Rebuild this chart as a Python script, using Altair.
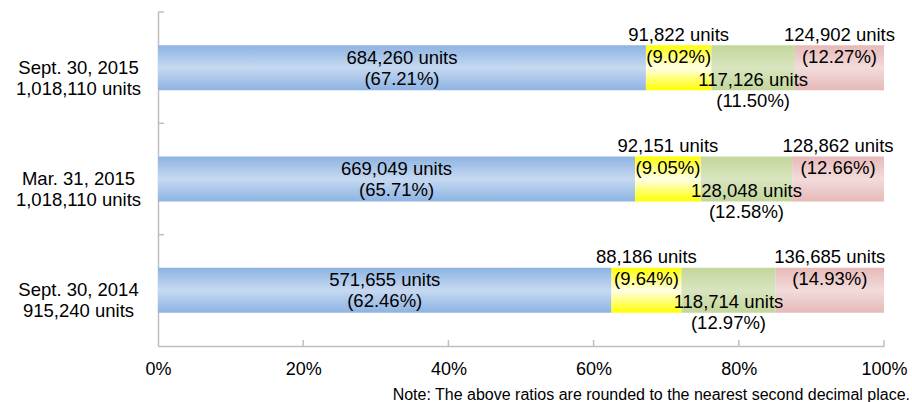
import altair as alt
import pandas as pd

# ---- data ----
dates = ["Sept. 30, 2015", "Mar. 31, 2015", "Sept. 30, 2014"]
totals = [1018110, 1018110, 915240]
series = ["blue", "yellow", "green", "pink"]
blue = [684260, 669049, 571655]
yellow = [91822, 92151, 88186]
green = [117126, 128048, 118714]
pink = [124902, 128862, 136685]
x_ticks = [0.2, 0.4, 0.6, 0.8, 1.0]
note = "Note: The above ratios are rounded to the nearest second decimal place."

values = {"blue": blue, "yellow": yellow, "green": green, "pink": pink}
rows = []
for i, d in enumerate(dates):
    cat = f"{d}\n{totals[i]:,} units"
    for k, s in enumerate(series):
        v = values[s][i]
        rows.append({
            "cat": cat, "series": s, "order": k, "value": v,
            "line1": f"{v:,} units",
            "line2": f"({v / totals[i] * 100:.2f}%)",
        })
df = pd.DataFrame(rows)
cat_order = [f"{d}\n{totals[i]:,} units" for i, d in enumerate(dates)]

FONT = "Liberation Sans"
FS = 18.5
GRAY = "#BFBFBF"


def grad(edge, mid):
    return alt.LinearGradient(
        gradient="linear", x1=0, x2=0, y1=0, y2=1,
        stops=[alt.GradientStop(color=edge, offset=0),
               alt.GradientStop(color=mid, offset=0.5),
               alt.GradientStop(color=edge, offset=1)])


fills = {
    "blue": grad("#8DB3E2", "#C6D9F1"),
    "yellow": grad("#FFFF00", "#FFFFE8"),
    "green": grad("#C3D69B", "#D9E5BF"),
    "pink": grad("#E6B9B8", "#F2DCDB"),
}

xscale = alt.Scale(domain=[0, 1], nice=False, zero=False)
yscale = alt.Scale(paddingInner=0, paddingOuter=0)

base = (
    alt.Chart(df)
    .transform_stack(stack="value", groupby=["cat"], as_=["x0", "x1"],
                     offset="normalize", sort=[alt.SortField("order", "ascending")])
    .transform_calculate(mid="(datum.x0 + datum.x1) / 2")
)

Y = alt.Y("cat:N", sort=cat_order, scale=yscale, title=None,
          axis=alt.Axis(labelExpr="split(datum.label, '\\n')", labelAlign="center",
                        labelBaseline="middle", labelPadding=80, labelLineHeight=21,
                        labelFont=FONT, labelFontSize=FS, labelColor="black",
                        ticks=False, domainColor=GRAY, domainWidth=1.5))
X = alt.X("x0:Q", scale=xscale, title=None,
          axis=alt.Axis(values=[0, 0.2, 0.4, 0.6, 0.8, 1.0], format=".0%",
                        ticks=False, labelPadding=14, labelFont=FONT, labelFontSize=18,
                        labelColor="black", domainColor=GRAY, domainWidth=1.5,
                        grid=False, labelFlush=False))

layers = []
for s in series:
    layers.append(
        base.transform_filter(alt.datum.series == s)
        .mark_bar(height=45, color=fills[s], strokeWidth=0)
        .encode(x=X, x2="x1:Q", y=Y)
    )

offsets = {"blue": (-10, 11), "yellow": (-33, -11), "green": (12, 33), "pink": (-33, -11)}
for s in series:
    d1, d2 = offsets[s]
    for field, dy in (("line1", d1), ("line2", d2)):
        layers.append(
            base.transform_filter(alt.datum.series == s)
            .mark_text(font=FONT, fontSize=FS, color="black", dy=dy,
                       align="center", baseline="middle")
            .encode(x=alt.X("mid:Q", scale=xscale), y=alt.Y("cat:N", sort=cat_order, scale=yscale),
                    text=f"{field}:N")
        )

# inward ticks on the category axis (band edges)
layers.append(
    base.transform_filter(alt.datum.series == "blue")
    .mark_rule(color=GRAY, strokeWidth=1.5)
    .encode(y=alt.Y("cat:N", sort=cat_order, scale=yscale, bandPosition=0),
            x=alt.value(0), x2=alt.value(6))
)

# inward ticks on the value axis
tick_df = pd.DataFrame({"t": x_ticks})
layers.append(
    alt.Chart(tick_df).mark_rule(color=GRAY, strokeWidth=1.5)
    .encode(x=alt.X("t:Q", scale=xscale), y=alt.value(328), y2=alt.value(334))
)

# footnote
note_df = pd.DataFrame({"note": [note]})
layers.append(
    alt.Chart(note_df).mark_text(font=FONT, fontSize=16, color="black", align="right",
                                 baseline="middle")
    .encode(x=alt.value(752), y=alt.value(383), text="note:N")
)

chart = (
    alt.layer(*layers)
    .properties(width=726, height=334,
                autosize=alt.AutoSizeParams(type="none"),
                padding={"left": 158, "top": 12, "right": 28, "bottom": 56},
                background="white")
    .configure_view(stroke=None)
)

chart.save("out.html", embed_options={"renderer": "svg", "actions": False})
